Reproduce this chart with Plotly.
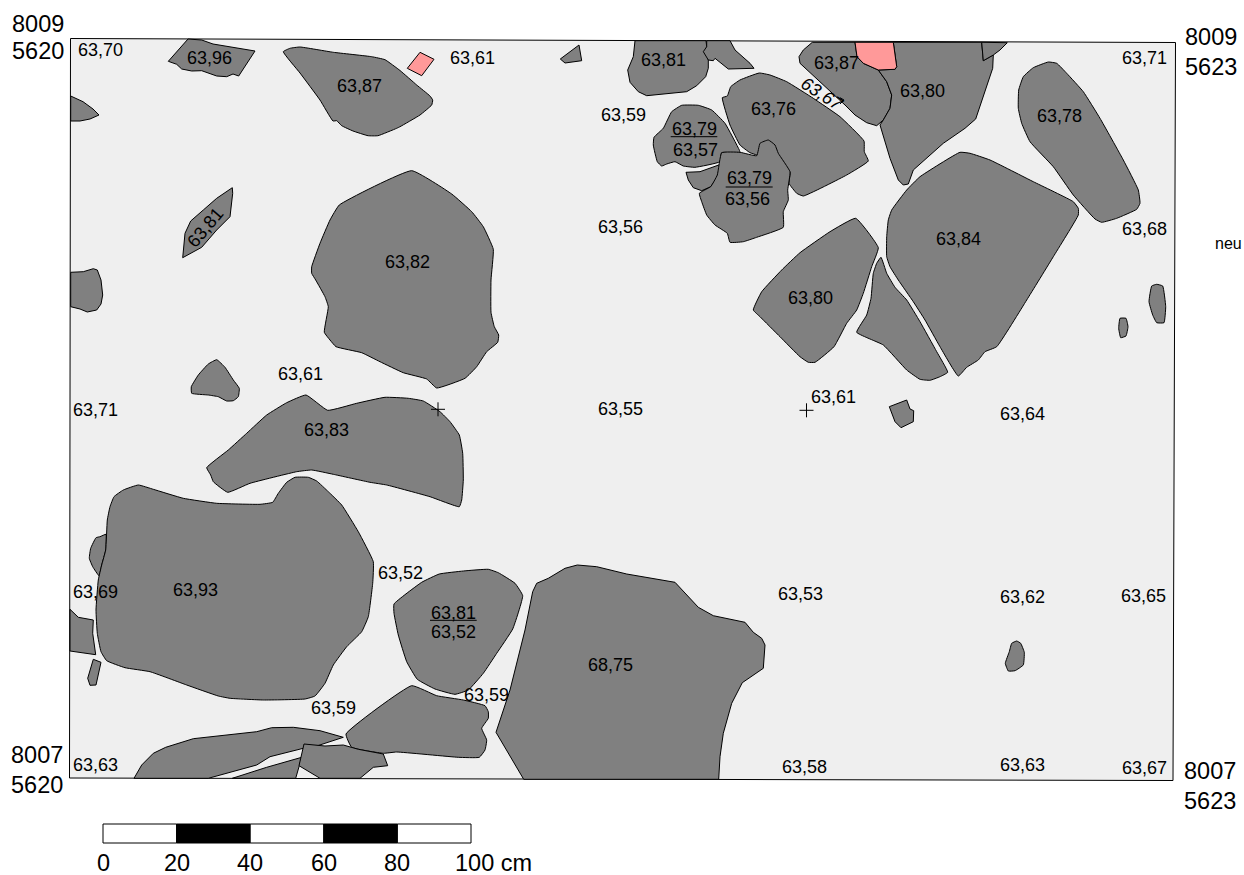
import plotly.graph_objects as go

# Plan drawing: outline vertices in sheet units (x right, y down).
frame = [(70.5,38.5),(1175.5,42.5),(1173,780.5),(69.5,778)]

grey_stones = [
 [(70.7,96),(83,101.7),(93,109),(99,115),(90,119),(80,121),(70.7,121)],
 [(188,39),(201.7,40),(213,44),(255,51),(238.7,76),(233,74),(226.7,76.7),(216.7,76),(201.7,70.7),(191.7,71),(181.7,69),(176.7,64.3),(168.3,61.3),(176.7,51.7)],
 [(283.3,51.7),(290,48.3),(300,47),(333.3,52.3),(371.7,56.7),(385,59.7),(400,70.5),(416.7,85),(430,96),(432.7,100),(431.7,105),(420,115),(400,126.7),(396.7,128.3),(378,135.7),(368,135.7),(353,131),(341.7,125.7),(336.7,120.7),(333,121),(320,100),(300,73)],
 [(232.3,187.7),(232.7,193.3),(230,216.7),(216.7,230),(201.7,247.3),(182.7,257.7),(185,233.3),(190.7,221),(203.3,210),(216.7,198.3)],
 [(411.7,170.7),(451.7,194),(471.7,211.7),(483.3,226.7),(493.3,249.3),(491,280),(491,312.3),(494.3,326.7),(498.7,335),(497.7,342.3),(486.7,351.7),(476.7,366.7),(465,378.3),(436.7,388),(426.7,379),(403.3,372.7),(380,361.7),(361.7,352.7),(336,346.7),(330,340),(324.3,332.3),(328.3,306.7),(325,296.7),(315.7,280),(311.7,273.3),(311.7,266.7),(320,243.3),(330,220),(339.3,205)],
 [(70.7,272.3),(83.3,271.7),(93.3,268.7),(97.3,270),(101,280),(102.7,295),(101,304),(96.7,310),(87.3,312),(80,309),(70.7,306.7)],
 [(216.7,359.7),(225,367.3),(233.3,380),(239.3,388.3),(238.3,396.7),(233.3,400.7),(226.7,401),(218.3,396.7),(208.3,395),(191.7,393.3),(191.3,386.7),(198.3,375),(208.3,364)],
 [(306,395),(327.7,410.3),(356.7,403.3),(385,397.3),(408.3,398.3),(423.3,401),(440,411.7),(450,421.7),(459.3,435),(462.7,453.3),(463.3,480),(461.7,500),(459.3,506.7),(430,496.7),(386.7,485),(370,482.3),(333.3,474.3),(311.7,470),(296.7,471.7),(250,483.3),(227.7,492.3),(213.3,481.7),(210.7,475),(206.7,467.7),(228.3,450),(246.7,433.3),(266.7,415),(286.7,402.7)],
 [(106,534.3),(100,536.7),(96,537.7),(90.7,548.3),(89.3,558.3),(92.7,566.7),(99,575.7),(101.7,565),(105.7,550)],
 [(138.3,485),(153.3,489.3),(183.3,498.3),(216.7,503.3),(260,504.3),(272.7,502.3),(278.3,493.3),(286.7,482.3),(295,477.3),(308.3,477.3),(316.7,481),(328.3,491.7),(341.7,505),(358.3,531.7),(373.3,561.7),(372.7,583.3),(368.3,616.7),(361.7,631.7),(346.7,646.7),(333.3,665),(325,683.3),(315,696),(305,699),(263.3,700),(230,698.3),(218.3,696),(186.7,685),(150,671.7),(125,667.7),(106.7,660.7),(101,651.7),(97.3,633.3),(96,610),(98.3,580),(101.7,565),(105.7,550),(107.3,520),(110,506.7),(114,496.7),(123.3,490)],
 [(70,609.3),(78.3,617.3),(93.3,620),(92.7,633.3),(95.7,654.7),(70,651)],
 [(93.3,659.3),(101,662.3),(96,685),(90,685.3),(87.7,678.3)],
 [(134,778.3),(141.7,765),(153.3,753.3),(165.7,747.3),(193.3,738.7),(256.7,731.7),(271.7,727.7),(293.3,727.3),(320,730.7),(343.3,737.3),(316.7,746),(303.3,748.3),(270,756.7),(256.7,765),(208.3,778.3)],
 [(232.3,778.3),(266.7,767.3),(301.7,757.3),(299,766.7),(295.7,778.3)],
 [(411.7,685.7),(436.7,695.7),(463.3,700),(485,705.7),(488.3,711.7),(488.3,718.3),(481.7,728.3),(486.7,740),(485,750),(479.3,757.3),(458.3,757.3),(396.7,752),(383.3,753.3),(351.7,747.3),(346,734)],
 [(304,744),(325,746),(343.3,745),(358.3,749.3),(383.3,754),(387.7,765.7),(373.3,767.3),(360,778.3),(320,778.3),(299,765.7)],
 [(394,604),(421.7,582.3),(439.3,574),(463.3,571),(488.3,569.3),(498.3,572.7),(515,583.3),(522.7,595.7),(512.7,629),(496.7,653.3),(483.3,673.3),(468.3,690),(455,694.3),(435,689),(417.3,679.3),(406.7,661.7),(398.3,635),(394,613.3)],
 [(577.3,565),(596.7,566.7),(626.7,574),(675,582.3),(698.3,607.3),(713.3,615.7),(745,622.3),(753.3,632.3),(761.7,638.3),(765,645),(763.3,668.3),(742.3,682.7),(731.7,703.3),(723.3,733.3),(720,756.7),(718.7,779.3),(523.7,779.3),(496,732.3),(510,690),(525,630),(532.7,591.7),(536.7,583.3),(548.3,578.3),(565,568.3)],
 [(579,45),(581.7,60.7),(565,63),(560.3,59)],
 [(635,40.7),(706,40.7),(708.3,60),(708.3,68.3),(705.7,76.7),(696.7,85.7),(686.7,91.7),(646.7,95.7),(638.3,91.7),(630,82.3),(627.7,70),(633.3,56.7)],
 [(706.7,40.7),(730,40.7),(735,50),(750,63.3),(754,68.3),(728.3,69),(715,58.3),(713.3,60.7),(708.3,60),(703.3,51.7),(706.7,46.7)],
 [(759.3,73),(770,75),(786.7,81.7),(813.3,98.3),(840,116.7),(864,141),(864.3,151.7),(868.3,161),(846.7,175),(803.3,196),(796.7,193.3),(789,183.3),(790,171.7),(756.7,155),(750,152.7),(740,145),(730,125),(722.3,97.7),(727.3,96),(730.7,86.7),(740,80)],
 [(681.7,105.3),(698.3,105.3),(711.7,110),(725,123.3),(739.3,150),(740,152.7),(721.7,152.7),(720,161.7),(695,167.3),(683.3,166),(675,161.7),(666.7,164),(661.7,166),(657.3,161.7),(653.3,145),(654,137.3),(663.3,128.3),(671.7,111.7)],
 [(686,172.3),(700,171.7),(720.7,164.3),(716.7,178.3),(710.7,186.7),(701.7,190.7),(693.3,187.7),(688.3,180)],
 [(721.7,152.7),(740,152.3),(756.7,155.7),(760,143.3),(768.3,140),(775,145),(778.3,153.3),(790,171.7),(787.7,190),(788.3,200),(783.3,211.7),(783.3,227.3),(756.7,237.3),(743.3,241.7),(730,242.3),(727.3,233.3),(715,225),(706.7,215),(701.7,201.7),(699.3,193.3),(710.7,186.7),(717.3,175)],
 [(812.3,42.3),(855,42.3),(857,56.7),(863.3,63.3),(878.3,70),(886.7,81.7),(891.7,95),(890,108.3),(883.3,120),(876.7,125.7),(866.7,122.7),(855,115),(845,105),(823.3,85),(800,63.3),(799,56.7),(803.3,50)],
 [(893.3,42.3),(981.7,42.3),(983.3,60.7),(993.3,55),(992.7,68.3),(975.7,119),(965,128.3),(943.3,143.3),(913.3,170),(908.3,184),(903.3,185),(898.3,180),(890,158.3),(880,125),(883.3,120),(890,108.3),(891.7,95),(886.7,81.7),(878.3,70),(895,69.3),(896.7,66.7)],
 [(981.7,42.3),(1007.3,42.7),(1000,50),(993.3,55),(983.3,60.7)],
 [(1048.3,62),(1056.7,63.3),(1066.7,73.3),(1083.3,91.7),(1100,118.3),(1123.3,160),(1138.3,190),(1140,203.3),(1136.7,209.3),(1116.7,218.3),(1101.7,222.3),(1095,219),(1073.3,195),(1053.3,166.7),(1030,141.7),(1021.7,123.3),(1018.3,108.3),(1018.7,90),(1023.3,76.7),(1033.3,67.7)],
 [(960,152.3),(970,153.3),(990,160),(1033.3,181.7),(1073.3,201.7),(1078.3,208.3),(1078.3,215),(1053.3,256.7),(1026.7,300),(996.7,346.7),(985,351.7),(978.3,360),(966.7,367.3),(958.3,376),(940,346.7),(925,320),(913.3,301.7),(898.3,280),(890,266.7),(886.7,256.7),(886.7,236.7),(888.3,220),(891.7,210),(906.7,190),(920,176.7)],
 [(855.7,218.3),(878.3,247.7),(871.7,266.7),(863.3,293.3),(856.7,310),(846.7,323.3),(834,346.7),(815,362.3),(808.3,362.3),(800,356.7),(780,336.7),(760,316.7),(753.3,310),(761.7,291.7),(781.7,270),(800,252.7),(830,231.7)],
 [(881,257.3),(886.7,273.3),(895,287.3),(906.7,300),(920,321.7),(936.7,351.7),(947.7,372.3),(940,376.7),(930,380.3),(920,379.3),(906.7,370),(883.3,345),(856.7,332.3),(866.7,315),(871,298.3),(873.3,273.3),(876.7,263.3)],
 [(906.7,400),(910,409),(913.7,410.7),(913.3,421.7),(901,427.7),(895,421.7),(889.3,406.7)],
 [(1151.7,286),(1156.7,284.3),(1162.7,286),(1165.7,306.7),(1164,322.7),(1156.7,322.7),(1152.7,315),(1149,301.7)],
 [(1120,318.3),(1126,318.3),(1128,326.7),(1126,336),(1120.7,337.7),(1118.7,328.3)],
 [(1011.7,643.3),(1016.7,641),(1020.7,643.3),(1024.3,652.3),(1023.3,665),(1015,670.7),(1008.3,671),(1005.3,663.3),(1009.3,651.7)],
]
# outlines that meet the frame or have sharp corners keep straight edges
straight_edged = {0,1,3,5,10,11,12,13,15,17,18,19,20,23,25,26,27,32}
pink_stones = [
 [(420,52.3),(434,59.3),(421.7,75.7),(407.3,68.3)],
 [(855,42.3),(893.3,42.3),(896.7,66.7),(895,69.3),(878.3,70),(863.3,63.3),(857,56.7)],
]

height_x = [100,209,359,472,663,836,1144,623,773,922,1059,694,695,749,747,620,958,1144,407,810,300,95,620,833,1022,326,400,195,95,800,1022,1143,453,453,610,486,333,95,804,1022,1144]
height_y = [50,58,86,58,60,63,58,115,109,91,116,129,150,178,199,227,239,229,262,298,374,410,409,397,414,430,573,590,592,594,597,596,613,632,665,695,708,765,767,765,768]
height_txt = ["63,70","63,96","63,87","63,61","63,81","63,87","63,71","63,59","63,76","63,80","63,78","63,79","63,57","63,79","63,56","63,56","63,84","63,68","63,82","63,80","63,61","63,71","63,55","63,61","63,64","63,83","63,52","63,93","63,69","63,53","63,62","63,65","63,81","63,52","68,75","63,59","63,59","63,63","63,58","63,63","63,67"]

tilted_x = [205,822]
tilted_y = [228,94]
tilted_txt = ["63,81","<i>63,67</i>"]
tilted_angle = [-50,33]

underline_x = [(670.7,717.3),(725.7,772.7),(430,476.7)]
underline_y = [136.7,187,620.3]

arrow_x = [840,844,840]
arrow_y = [97.7,100,104]

cross_x = [438,806.5]
cross_y = [409.3,410.3]

corner_x = [38,38,1211,1211,37,37,1210,1210]
corner_y = [24,51,37,67,755,785,771,801]
corner_txt = ["8009","5620","8009","5623","8007","5620","8007","5623"]

scale_cm = [0,20,40,60,80,100]
scale_fill = ["white","black","white","black","white"]
scale_lbl_x = [0,20,40,60,80,106]
scale_lbl = ["0","20","40","60","80","100 cm"]
SHEET_W, SHEET_H = 1244, 875
PX_PER_CM = 3.68
SCALE_ORIGIN = 103

fig = go.Figure()

def poly(pts, fill, lw=1, smooth=False):
    xs, ys = zip(*(list(pts)+[pts[0]]))
    line = dict(color="black", width=lw)
    if smooth:
        line.update(shape="spline", smoothing=0.35)
    fig.add_trace(go.Scatter(x=xs, y=ys, mode="lines", fill="toself", fillcolor=fill,
                             line=line, hoverinfo="skip", showlegend=False))

poly(frame, "#efefef")
for i, p in enumerate(grey_stones):
    poly(p, "#808080", smooth=i not in straight_edged)
for p in pink_stones:
    poly(p, "#ff9999")

for (x0,x1),y in zip(underline_x, underline_y):
    fig.add_trace(go.Scatter(x=[x0,x1], y=[y,y], mode="lines", line=dict(color="black", width=1),
                             hoverinfo="skip", showlegend=False))
fig.add_trace(go.Scatter(x=arrow_x, y=arrow_y, mode="lines", line=dict(color="black", width=1),
                         hoverinfo="skip", showlegend=False))
fig.add_trace(go.Scatter(x=cross_x, y=cross_y, mode="markers",
                         marker=dict(symbol="cross-thin", size=10, line=dict(color="black", width=1)),
                         hoverinfo="skip", showlegend=False))

# scale bar, on a second x axis in centimetres
for c0,c1,col in zip(scale_cm[:-1], scale_cm[1:], scale_fill):
    fig.add_trace(go.Scatter(x=[c0,c1,c1,c0,c0], y=[824,824,843,843,824], xaxis="x2", mode="lines",
                             fill="toself", fillcolor=col, line=dict(color="black", width=1),
                             hoverinfo="skip", showlegend=False))

ann = []
FONT = "Liberation Sans, Arial, sans-serif"
def label(x,y,t,size,angle=0,xref="x"):
    ann.append(dict(x=x,y=y,text=t,xref=xref,yref="y",showarrow=False,textangle=angle,
                    xanchor="center",yanchor="middle",font=dict(size=size,color="black",family=FONT)))
for x,y,t in zip(height_x,height_y,height_txt):
    label(x,y,t,18)
for x,y,t,a in zip(tilted_x,tilted_y,tilted_txt,tilted_angle):
    label(x,y,t,18,a)
for x,y,t in zip(corner_x,corner_y,corner_txt):
    label(x,y,t,23.5)
label(1228,243,"neu",16)
for c,t in zip(scale_lbl_x,scale_lbl):
    label(c,863,t,23.5,xref="x2")

ax = dict(visible=False, fixedrange=True)
fig.update_layout(
    width=SHEET_W, height=SHEET_H, margin=dict(l=0,r=0,t=0,b=0),
    paper_bgcolor="white", plot_bgcolor="white", showlegend=False,
    xaxis=dict(range=[0,SHEET_W], domain=[0,1], **ax),
    xaxis2=dict(range=[-SCALE_ORIGIN/PX_PER_CM,(SHEET_W-SCALE_ORIGIN)/PX_PER_CM], overlaying="x", anchor="y", **ax),
    yaxis=dict(range=[SHEET_H,0], domain=[0,1], **ax),
    annotations=ann,
)
fig.write_html("out.html", post_script="document.body.style.margin='0';document.body.style.overflow='hidden';",
               config={"displayModeBar":False})
